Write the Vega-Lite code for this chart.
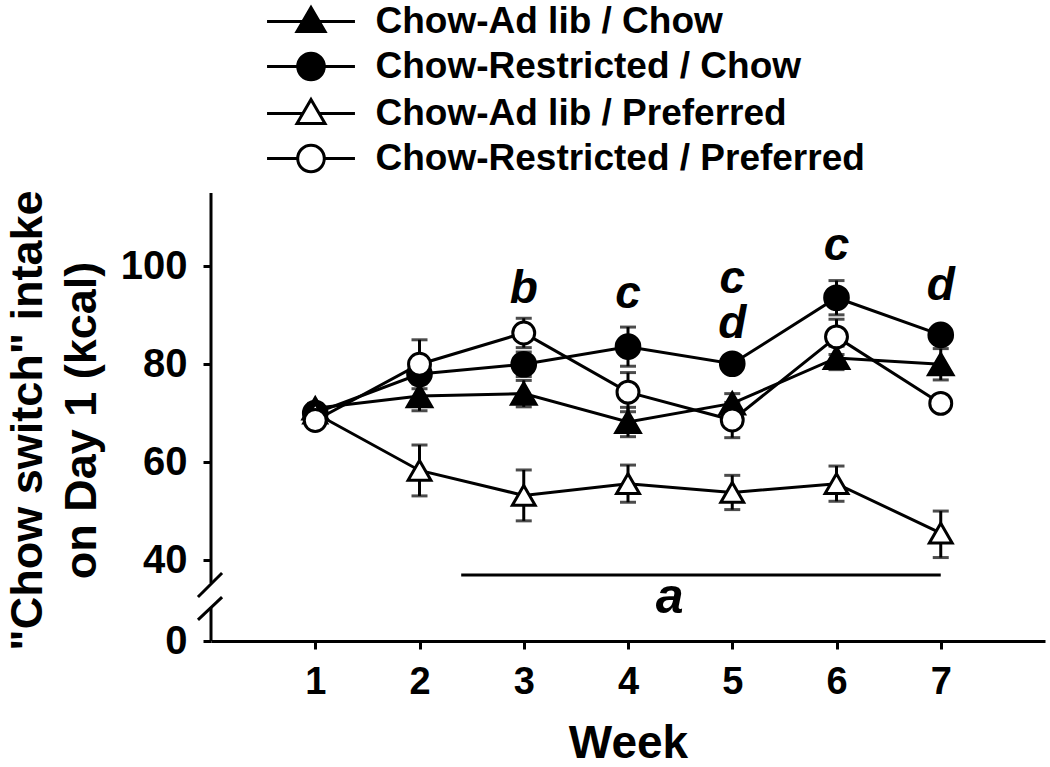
{
  "$schema": "https://vega.github.io/schema/vega-lite/v6.json",
  "width": 834,
  "height": 448,
  "autosize": {"type": "none"},
  "padding": {"left": 211, "top": 193, "right": 5, "bottom": 126},
  "background": "white",
  "config": {
    "view": {"stroke": null},
    "font": "Liberation Sans",
    "axis": {
      "domainColor": "black", "domainWidth": 3, "tickColor": "black", "tickWidth": 3, "tickSize": 8,
      "labelColor": "black", "titleColor": "black", "labelFont": "Liberation Sans", "titleFont": "Liberation Sans",
      "labelFontWeight": "bold", "titleFontWeight": "bold", "grid": false
    },
    "legend": {
      "labelFont": "Liberation Sans", "labelFontSize": 37, "labelFontWeight": "bold", "labelColor": "black",
      "labelLimit": 1000, "symbolStrokeWidth": 3, "symbolStrokeColor": "black", "symbolSize": 784,
      "symbolOpacity": 1, "labelOffset": 46, "rowPadding": 7, "padding": 0
    }
  },
  "datasets": {
    "means": [
      {"group": "Chow-Ad lib / Chow", "week": 1, "kcal": 71, "lo": 70, "hi": 72},
      {"group": "Chow-Ad lib / Chow", "week": 2, "kcal": 73.5, "lo": 70.5, "hi": 76.5},
      {"group": "Chow-Ad lib / Chow", "week": 3, "kcal": 74, "lo": 71.3, "hi": 76.7},
      {"group": "Chow-Ad lib / Chow", "week": 4, "kcal": 68.2, "lo": 65.2, "hi": 71.2},
      {"group": "Chow-Ad lib / Chow", "week": 5, "kcal": 72, "lo": 70, "hi": 74},
      {"group": "Chow-Ad lib / Chow", "week": 6, "kcal": 81.3, "lo": 78.9, "hi": 83.7},
      {"group": "Chow-Ad lib / Chow", "week": 7, "kcal": 80, "lo": 76.8, "hi": 83.2},
      {"group": "Chow-Restricted / Chow", "week": 1, "kcal": 70, "lo": 69, "hi": 71},
      {"group": "Chow-Restricted / Chow", "week": 2, "kcal": 78, "lo": 76, "hi": 80},
      {"group": "Chow-Restricted / Chow", "week": 3, "kcal": 80, "lo": 77.5, "hi": 82.5},
      {"group": "Chow-Restricted / Chow", "week": 4, "kcal": 83.6, "lo": 79.6, "hi": 87.6},
      {"group": "Chow-Restricted / Chow", "week": 5, "kcal": 80.1, "lo": 79.1, "hi": 81.1},
      {"group": "Chow-Restricted / Chow", "week": 6, "kcal": 93.6, "lo": 90.1, "hi": 97.1},
      {"group": "Chow-Restricted / Chow", "week": 7, "kcal": 86, "lo": 84.5, "hi": 87.5},
      {"group": "Chow-Ad lib / Preferred", "week": 1, "kcal": 70, "lo": 69, "hi": 71},
      {"group": "Chow-Ad lib / Preferred", "week": 2, "kcal": 58.3, "lo": 53.1, "hi": 63.5},
      {"group": "Chow-Ad lib / Preferred", "week": 3, "kcal": 53.2, "lo": 48, "hi": 58.4},
      {"group": "Chow-Ad lib / Preferred", "week": 4, "kcal": 55.6, "lo": 51.8, "hi": 59.4},
      {"group": "Chow-Ad lib / Preferred", "week": 5, "kcal": 53.8, "lo": 50.3, "hi": 57.3},
      {"group": "Chow-Ad lib / Preferred", "week": 6, "kcal": 55.6, "lo": 52, "hi": 59.2},
      {"group": "Chow-Ad lib / Preferred", "week": 7, "kcal": 45.5, "lo": 40.5, "hi": 50},
      {"group": "Chow-Restricted / Preferred", "week": 1, "kcal": 68.5, "lo": 67.5, "hi": 69.5},
      {"group": "Chow-Restricted / Preferred", "week": 2, "kcal": 80, "lo": 75, "hi": 85},
      {"group": "Chow-Restricted / Preferred", "week": 3, "kcal": 86.4, "lo": 83.4, "hi": 89.4},
      {"group": "Chow-Restricted / Preferred", "week": 4, "kcal": 74.3, "lo": 70.3, "hi": 78.3},
      {"group": "Chow-Restricted / Preferred", "week": 5, "kcal": 68.6, "lo": 65, "hi": 72.2},
      {"group": "Chow-Restricted / Preferred", "week": 6, "kcal": 85.6, "lo": 82, "hi": 89.2},
      {"group": "Chow-Restricted / Preferred", "week": 7, "kcal": 72, "lo": 71, "hi": 73}
    ],
    "letters": [
      {"week": 3, "kcal": 92.6, "label": "b"},
      {"week": 4, "kcal": 91.6, "label": "c"},
      {"week": 5, "kcal": 94.5, "label": "c"},
      {"week": 5, "kcal": 85.4, "label": "d"},
      {"week": 6, "kcal": 101.4, "label": "c"},
      {"week": 7, "kcal": 93.2, "label": "d"}
    ],
    "abar": [{"week": 2.4, "week2": 7, "kcal": 32.6}],
    "alabel": [{"week": 4.4, "kcal": 13.8, "label": "a"}],
    "axisseg": [
      {"week": 0, "kcal": 28.6, "kcal2": 115},
      {"week": 0, "kcal": 0, "kcal2": 16.8}
    ],
    "slashes": [
      {"week": -0.125, "week2": 0.106, "kcal": 21.7, "kcal2": 33.6},
      {"week": -0.125, "week2": 0.106, "kcal": 10.4, "kcal2": 21.7}
    ]
  },
  "layer": [
    {
      "data": {"name": "means"},
      "mark": {"type": "rule", "strokeWidth": 3, "color": "black"},
      "encoding": {
        "x": {
          "field": "week", "type": "quantitative",
          "scale": {"domain": [0, 8], "nice": false, "zero": false},
          "axis": {
            "values": [1, 2, 3, 4, 5, 6, 7], "format": "d", "title": "Week", "labelFontSize": 38, "labelPadding": 14,
            "labelFlush": false, "titleFontSize": 46, "titleBaseline": "alphabetic", "titleY": 116, "titleX": 417
          }
        },
        "y": {
          "field": "lo", "type": "quantitative",
          "scale": {"domain": [0, 40, 115], "range": [448, 367, 0], "nice": false, "zero": false},
          "axis": {
            "values": [0, 40, 60, 80, 100], "domain": false,
            "title": ["\"Chow switch\" intake", "on Day 1 (kcal)"],
            "titleFontSize": 45, "titleLineHeight": 54, "titleX": -170, "titleY": 227,
            "titleBaseline": "alphabetic", "titleAngle": -90, "titleAlign": "center",
            "labelFontSize": 40, "labelPadding": 16
          }
        },
        "y2": {"field": "hi"}
      }
    },
    {
      "data": {"name": "means"},
      "mark": {"type": "tick", "orient": "horizontal", "size": 16, "thickness": 3, "color": "black"},
      "encoding": {
        "x": {"field": "week", "type": "quantitative"},
        "y": {"field": "lo", "type": "quantitative"}
      }
    },
    {
      "data": {"name": "means"},
      "mark": {"type": "tick", "orient": "horizontal", "size": 16, "thickness": 3, "color": "black"},
      "encoding": {
        "x": {"field": "week", "type": "quantitative"},
        "y": {"field": "hi", "type": "quantitative"}
      }
    },
    {
      "data": {"name": "means"},
      "mark": {"type": "line", "color": "black", "strokeWidth": 3},
      "encoding": {
        "x": {"field": "week", "type": "quantitative"},
        "y": {"field": "kcal", "type": "quantitative"},
        "detail": {"field": "group"}
      }
    },
    {
      "data": {"name": "means"},
      "mark": {"type": "point", "filled": true, "stroke": "black", "strokeWidth": 3, "opacity": 1},
      "encoding": {
        "x": {"field": "week", "type": "quantitative"},
        "y": {"field": "kcal", "type": "quantitative"},
        "shape": {
          "field": "group", "type": "nominal", "legend": null,
          "scale": {
            "domain": ["Chow-Ad lib / Chow", "Chow-Restricted / Chow", "Chow-Ad lib / Preferred", "Chow-Restricted / Preferred"],
            "range": ["triangle-up", "circle", "triangle-up", "circle"]
          }
        },
        "fill": {
          "field": "group", "type": "nominal", "legend": null,
          "scale": {
            "domain": ["Chow-Ad lib / Chow", "Chow-Restricted / Chow", "Chow-Ad lib / Preferred", "Chow-Restricted / Preferred"],
            "range": ["black", "black", "white", "white"]
          }
        },
        "size": {
          "field": "group", "type": "nominal", "legend": null,
          "scale": {
            "domain": ["Chow-Ad lib / Chow", "Chow-Restricted / Chow", "Chow-Ad lib / Preferred", "Chow-Restricted / Preferred"],
            "range": [600, 480, 600, 480]
          }
        }
      }
    },
    {
      "data": {"name": "means"},
      "mark": {"type": "point", "filled": true, "stroke": "black", "strokeWidth": 3, "opacity": 0},
      "encoding": {
        "x": {"field": "week", "type": "quantitative"},
        "y": {"field": "kcal", "type": "quantitative"},
        "shape": {
          "field": "group", "type": "nominal",
          "legend": {
            "orient": "none", "legendX": 81.5, "legendY": -190, "title": null, "direction": "vertical",
            "encode": {"symbols": {"update": {"stroke": {"value": "black"}, "strokeWidth": {"value": 3}, "opacity": {"value": 1}, "size": {"value": 784}}}}
          },
          "scale": {
            "domain": ["Chow-Ad lib / Chow", "Chow-Restricted / Chow", "Chow-Ad lib / Preferred", "Chow-Restricted / Preferred"],
            "range": [
              "M0,-1L1,0.72L-1,0.72Z M-3.14,0H-0.58 M0.58,0H3.14",
              "M-0.95,0A0.95,0.95 0 1,0 0.95,0A0.95,0.95 0 1,0 -0.95,0Z M-3.14,0H-0.95 M0.95,0H3.14",
              "M0,-1L1,0.72L-1,0.72Z M-3.14,0H-0.58 M0.58,0H3.14",
              "M-0.95,0A0.95,0.95 0 1,0 0.95,0A0.95,0.95 0 1,0 -0.95,0Z M-3.14,0H-0.95 M0.95,0H3.14"
            ]
          }
        },
        "fill": {
          "field": "group", "type": "nominal",
          "legend": {
            "orient": "none", "legendX": 81.5, "legendY": -190, "title": null, "direction": "vertical",
            "encode": {"symbols": {"update": {"stroke": {"value": "black"}, "strokeWidth": {"value": 3}, "opacity": {"value": 1}, "size": {"value": 784}}}}
          },
          "scale": {
            "domain": ["Chow-Ad lib / Chow", "Chow-Restricted / Chow", "Chow-Ad lib / Preferred", "Chow-Restricted / Preferred"],
            "range": ["black", "black", "white", "white"]
          }
        }
      }
    },
    {
      "data": {"name": "letters"},
      "mark": {"type": "text", "font": "Liberation Sans", "fontSize": 46, "fontWeight": "bold", "fontStyle": "italic", "baseline": "alphabetic", "align": "center", "color": "black"},
      "encoding": {
        "x": {"field": "week", "type": "quantitative"},
        "y": {"field": "kcal", "type": "quantitative"},
        "text": {"field": "label"}
      }
    },
    {
      "data": {"name": "abar"},
      "mark": {"type": "rule", "strokeWidth": 3, "color": "black"},
      "encoding": {
        "x": {"field": "week", "type": "quantitative"},
        "x2": {"field": "week2"},
        "y": {"field": "kcal", "type": "quantitative"}
      }
    },
    {
      "data": {"name": "alabel"},
      "mark": {"type": "text", "font": "Liberation Sans", "fontSize": 50, "fontWeight": "bold", "fontStyle": "italic", "baseline": "alphabetic", "align": "center", "color": "black"},
      "encoding": {
        "x": {"field": "week", "type": "quantitative"},
        "y": {"field": "kcal", "type": "quantitative"},
        "text": {"field": "label"}
      }
    },
    {
      "data": {"name": "axisseg"},
      "mark": {"type": "rule", "strokeWidth": 3, "color": "black"},
      "encoding": {
        "x": {"field": "week", "type": "quantitative"},
        "y": {"field": "kcal", "type": "quantitative"},
        "y2": {"field": "kcal2"}
      }
    },
    {
      "data": {"name": "slashes"},
      "mark": {"type": "rule", "strokeWidth": 3, "color": "black"},
      "encoding": {
        "x": {"field": "week", "type": "quantitative"},
        "x2": {"field": "week2"},
        "y": {"field": "kcal", "type": "quantitative"},
        "y2": {"field": "kcal2"}
      }
    }
  ],
  "resolve": {"scale": {"shape": "independent", "fill": "independent", "size": "independent"}}
}
